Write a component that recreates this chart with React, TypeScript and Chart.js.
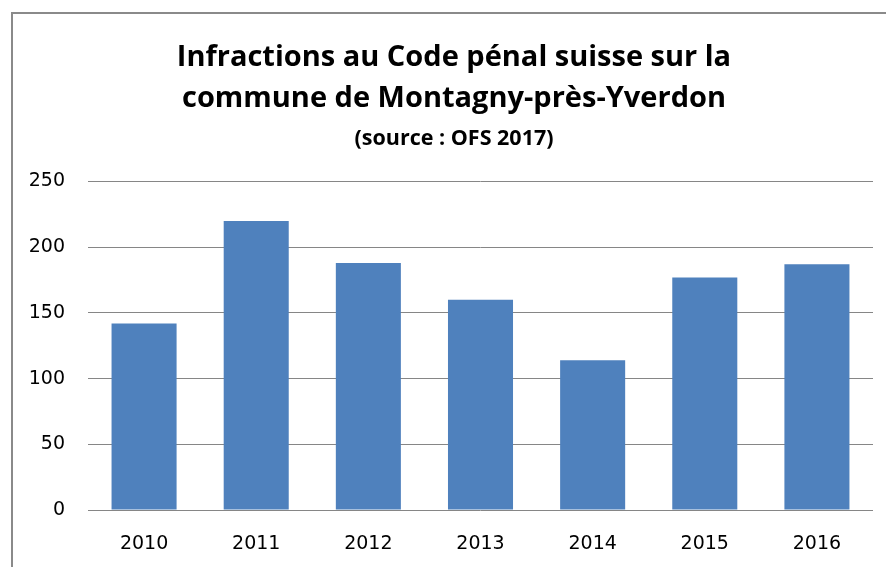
import React, { useEffect, useRef } from "react";
import { Chart, registerables } from "chart.js";

Chart.register(...registerables);

const titleLines = ["Infractions au Code pénal suisse sur la", "commune de Montagny-près-Yverdon"];
const subtitleText = "(source : OFS 2017)";
const categories = ["2010", "2011", "2012", "2013", "2014", "2015", "2016"];
const infractions = [142, 220, 188, 160, 114, 177, 187];
const yTicks = [0, 50, 100, 150, 200, 250];

// centre the title and subtitle over the whole chart frame (which extends past the right edge)
const centreTitlePlugin = {
  id: "centreTitle",
  afterLayout(chart: any) {
    const w = chart.width;
    (chart.boxes || []).forEach((b: any) => {
      if (b && b.options && b.options.text !== undefined && b.position === "top") {
        b.left = 0;
        b.right = w;
        b.width = w;
      }
    });
  },
};

export default function App() {
  const ref = useRef<HTMLCanvasElement | null>(null);

  useEffect(() => {
    if (!ref.current) return;
    const chart = new Chart(ref.current, {
      type: "bar",
      data: {
        labels: categories,
        datasets: [
          {
            data: infractions,
            backgroundColor: "#4f81bd",
            borderWidth: 0,
            categoryPercentage: 1,
            barPercentage: 0.58,
          },
        ],
      },
      options: {
        animation: false,
        responsive: false,
        maintainAspectRatio: false,
        layout: { padding: { left: 0, right: 22, top: 0, bottom: 0 } },
        plugins: {
          legend: { display: false },
          tooltip: { enabled: false },
          title: {
            display: true,
            text: titleLines,
            color: "#000",
            font: { family: "Open Sans", weight: "bold", size: 29, lineHeight: 1.414 },
            padding: { top: 23, bottom: 2 },
          },
          subtitle: {
            display: true,
            text: subtitleText,
            color: "#000",
            font: { family: "Open Sans", weight: "bold", size: 21.5, lineHeight: 1.2 },
            padding: { top: 4.6, bottom: 30.1 },
          },
        },
        scales: {
          x: {
            grid: { display: false, drawTicks: false },
            border: { display: false },
            ticks: {
              color: "#000",
              font: { family: "DejaVu Sans", size: 19 },
              padding: 23,
              maxRotation: 0,
            },
            afterFit: (s: any) => {
              s.height = 57;
            },
          },
          y: {
            min: 0,
            max: 250,
            afterBuildTicks: (s: any) => {
              s.ticks = yTicks.map((v) => ({ value: v }));
            },
            grid: { color: "#868686", lineWidth: 1, drawTicks: false },
            border: { display: false },
            ticks: {
              color: "#000",
              font: { family: "DejaVu Sans", size: 19 },
              padding: 23,
            },
            afterFit: (s: any) => {
              s.width = 75;
            },
          },
        },
      },
      plugins: [centreTitlePlugin],
    });
    return () => chart.destroy();
  }, []);

  return (
    <div style={{ position: "fixed", left: 0, top: 0, width: 886, height: 567, overflow: "hidden", background: "#fff" }}>
      <div
        style={{
          position: "absolute",
          left: 11,
          top: 12,
          borderLeft: "2px solid #8a8a8a",
          borderTop: "2px solid #8a8a8a",
          width: 882,
          height: 553,
        }}
      >
        <canvas ref={ref} width={882} height={553} style={{ display: "block" }} />
      </div>
    </div>
  );
}
